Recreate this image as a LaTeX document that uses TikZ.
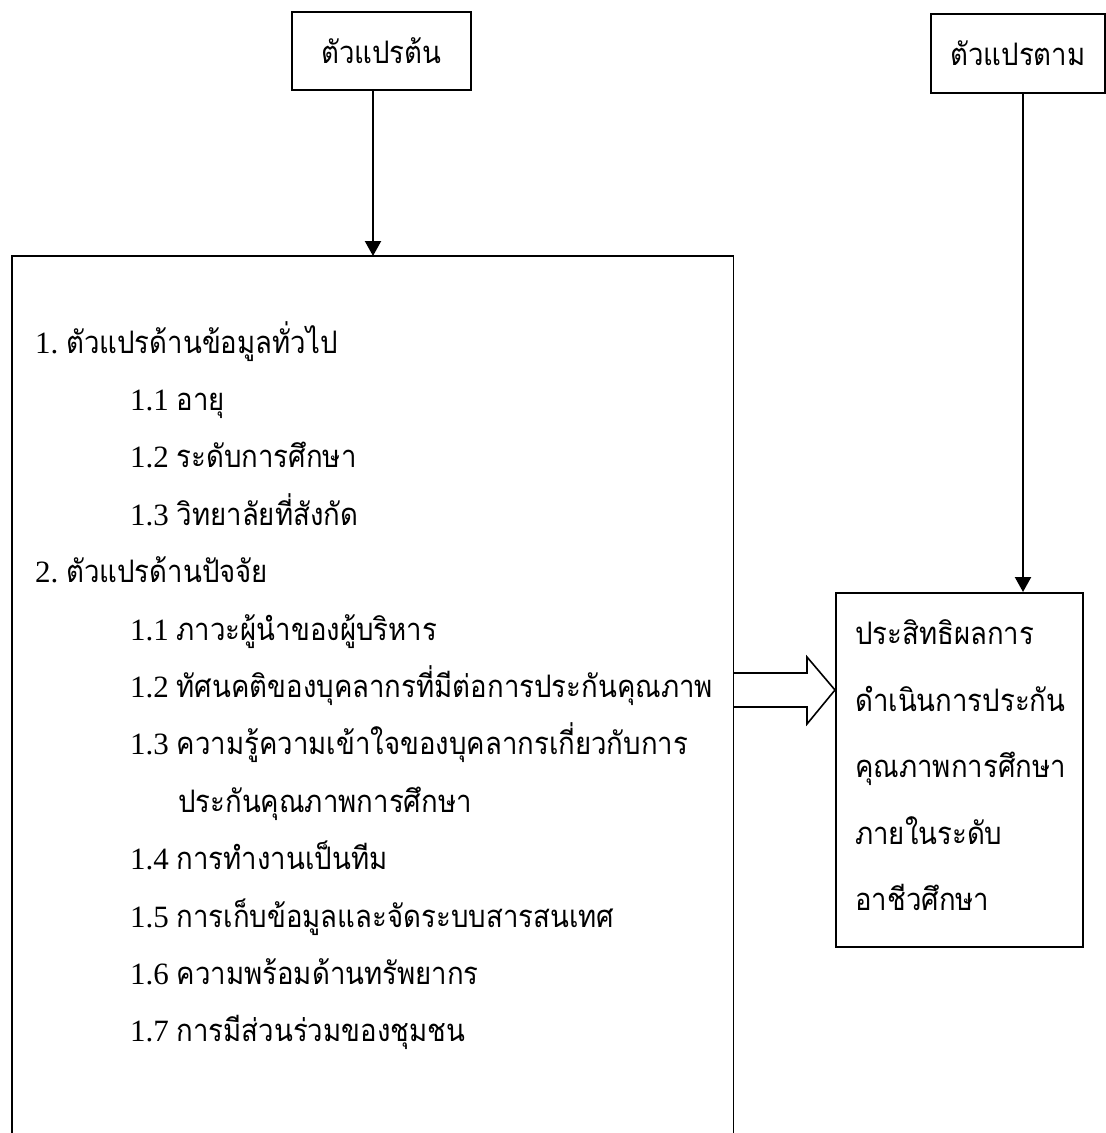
\documentclass[tikz,border=0pt]{standalone}
\usepackage{fontspec}
\setmainfont{Liberation Serif}
\newfontfamily\thaifont[Script=Thai,FakeStretch=0.89]{Loma}
\usetikzlibrary{arrows.meta}
\newcommand\thtxt[1]{{\thaifont #1}}
\begin{document}
\begin{tikzpicture}[x=1pt,y=-1pt,
  boxed/.style={draw, line width=1.8pt, inner sep=0pt},
  arr/.style={line width=2.2pt, -{Triangle[length=15pt,width=16pt]}},
  txt/.style={anchor=base west, inner sep=0pt, font=\fontsize{31}{31}\selectfont},
  ctxt/.style={font=\fontsize{31}{31}\selectfont},
]
\useasboundingbox (0,0) rectangle (1106,1133);
\fill[white] (0,0) rectangle (1106,1133);

% top boxes
\node[boxed, ctxt, minimum width=179pt, minimum height=78pt, anchor=north west] (iv) at (291,11) {\thtxt{ตัวแปรต้น}};
\node[boxed, ctxt, minimum width=174pt, minimum height=79pt, anchor=north west] (dv) at (930,13) {\thtxt{ตัวแปรตาม}};

% big box (open at the bottom)
\node[minimum width=721pt, minimum height=877pt, anchor=north west, inner sep=0pt] (big) at (12,256) {};
\draw[line width=1.8pt] (big.south west) -- (big.north west) -- (big.north east) -- (big.south east);

% result box
\node[boxed, minimum width=247pt, minimum height=354pt, anchor=north west] (res) at (835,592) {};

% arrows
\coordinate (bigtop) at (373,256);
\draw[arr] (iv.south -| bigtop) -- (bigtop);
\coordinate (restop) at (1023,592);
\draw[arr] (dv.south -| restop) -- (restop);

% hollow block arrow
\draw[line width=1.6pt, line join=miter]
  (big.east |- 0,673) -- (807,673) -- (807,657) -- (res.west |- 0,690)
  -- (807,724) -- (807,707) -- (big.east |- 0,707);

% list text
\node[txt] (l1)  at (35,353)    {1.\ \thtxt{ตัวแปรด้านข้อมูลทั่วไป}};
\node[txt] (l2)  at (130,410.4) {1.1 \thtxt{อายุ}};
\node[txt] (l3)  at (130,467.8) {1.2 \thtxt{ระดับการศึกษา}};
\node[txt] (l4)  at (130,525.2) {1.3 \thtxt{วิทยาลัยที่สังกัด}};
\node[txt] (l5)  at (35,582.6)  {2.\ \thtxt{ตัวแปรด้านปัจจัย}};
\node[txt] (l6)  at (130,640)   {1.1 \thtxt{ภาวะผู้นำของผู้บริหาร}};
\node[txt] (l7)  at (130,697.4) {1.2 \thtxt{ทัศนคติของบุคลากรที่มีต่อการประกันคุณภาพ}};
\node[txt] (l8)  at (130,754.8) {1.3 \thtxt{ความรู้ความเข้าใจของบุคลากรเกี่ยวกับการ}};
\node[txt] (l9)  at (178,812.2) {\thtxt{ประกันคุณภาพการศึกษา}};
\node[txt] (l10) at (130,869.6) {1.4 \thtxt{การทำงานเป็นทีม}};
\node[txt] (l11) at (130,927)   {1.5 \thtxt{การเก็บข้อมูลและจัดระบบสารสนเทศ}};
\node[txt] (l12) at (130,984.4) {1.6 \thtxt{ความพร้อมด้านทรัพยากร}};
\node[txt] (l13) at (130,1041.8){1.7 \thtxt{การมีส่วนร่วมของชุมชน}};

% result text
\node[txt] (r1) at (855,644) {\thtxt{ประสิทธิผลการ}};
\node[txt] (r2) at (855,711) {\thtxt{ดำเนินการประกัน}};
\node[txt] (r3) at (855,777) {\thtxt{คุณภาพการศึกษา}};
\node[txt] (r4) at (855,844) {\thtxt{ภายในระดับ}};
\node[txt] (r5) at (855,910) {\thtxt{อาชีวศึกษา}};
\end{tikzpicture}
\end{document}
